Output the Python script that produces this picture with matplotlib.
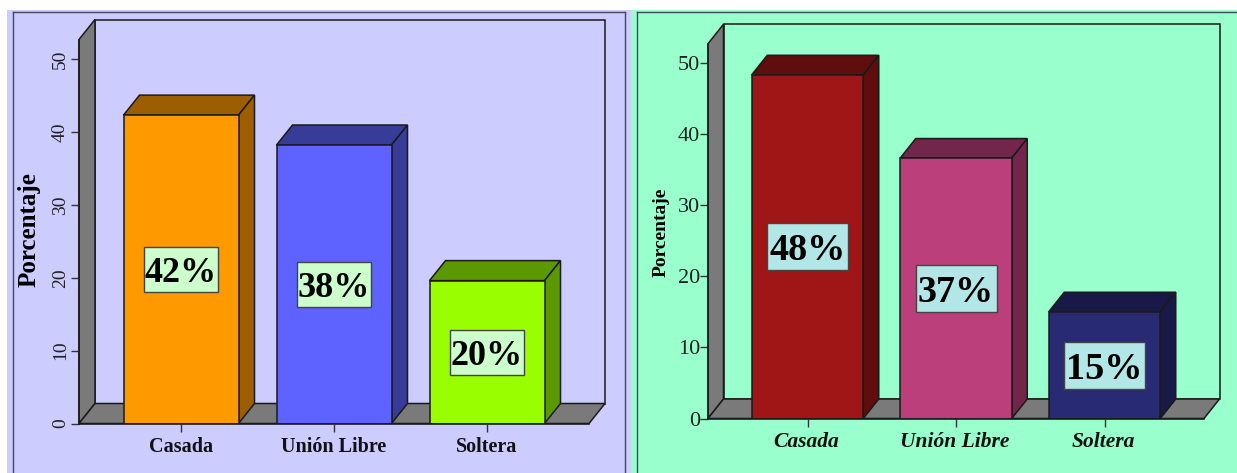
import matplotlib

matplotlib.use("Agg")
import matplotlib.pyplot as plt
from matplotlib.patches import Polygon, Rectangle
from matplotlib.transforms import ScaledTranslation

plt.rcParams["font.family"] = ["Liberation Serif", "DejaVu Sans"]

W, H = 1237, 473

categories = ["Casada", "Unión Libre", "Soltera"]
yticks = [0, 10, 20, 30, 40, 50]

left_values = [42.3, 38.2, 19.6]
left_labels = ["42%", "38%", "20%"]
left_front = ["#FF9900", "#5E62FF", "#99FF00"]
left_dark = ["#9C5E00", "#383C99", "#5C9900"]

right_values = [48.3, 36.6, 15.0]
right_labels = ["48%", "37%", "15%"]
right_front = ["#A01515", "#BB3F7B", "#292A74"]
right_dark = ["#600D0D", "#73264B", "#181946"]

LINE = "#1A1A1A"
GREY = "#7A7A7A"


def panel(fig, x0, x1, y0, color):
    fig.add_artist(
        Rectangle(
            (x0 / W, 0),
            (x1 - x0) / W,
            1 - y0 / H,
            transform=fig.transFigure,
            facecolor=color,
            edgecolor="none",
            zorder=-2,
        )
    )


def border(fig, x0, x1, y0):
    kw = dict(color="#444466", lw=1.0, transform=fig.transFigure, zorder=-1)
    fig.add_artist(plt.Line2D([x0 / W, x0 / W], [0, 1 - y0 / H], **kw))
    fig.add_artist(plt.Line2D([x0 / W, x1 / W], [1 - y0 / H, 1 - y0 / H], **kw))
    if x1 < W:
        fig.add_artist(plt.Line2D([x1 / W, x1 / W], [0, 1 - y0 / H], **kw))


def draw_chart(fig, box, values, labels, front, dark, opts):
    # box is x0, x1, y_bottom, y_top of the front plane, in image pixels
    x0, x1, yb, yt = box
    ax = fig.add_axes([x0 / W, 1 - yb / H, (x1 - x0) / W, (yb - yt) / H])
    ax.patch.set_alpha(0)

    sx = opts["spacing"]
    sy = opts["px_per_unit"]
    margin = (x1 - x0 - 2 * sx) / 2 / sx
    ax.set_xlim(-margin, 2 + margin)
    ax.set_ylim(0, (yb - yt) / sy)
    xmin, xmax = ax.get_xlim()
    ymax = ax.get_ylim()[1]
    dx = opts["depth"][0] / sx
    dy = opts["depth"][1] / sy
    bar_w = opts["bar_px"] / sx

    def poly(points, color, z):
        ax.add_patch(
            Polygon(points, closed=True, facecolor=color, edgecolor=LINE,
                    lw=1.1, zorder=z, clip_on=False, joinstyle="miter")
        )

    # walls of the 3d box
    poly([(xmin + dx, dy), (xmax + dx, dy), (xmax + dx, ymax + dy),
          (xmin + dx, ymax + dy)], "none", 1)
    poly([(xmin, 0), (xmin + dx, dy), (xmin + dx, ymax + dy), (xmin, ymax)],
         GREY, 1.5)
    poly([(xmin, 0), (xmax, 0), (xmax + dx, dy), (xmin + dx, dy)], GREY, 1.5)

    for i, v in enumerate(values):
        left = i - bar_w / 2
        right = i + bar_w / 2
        poly([(left, v), (right, v), (right + dx, v + dy), (left + dx, v + dy)],
             dark[i], 2)
        poly([(right, 0), (right + dx, dy), (right + dx, v + dy), (right, v)],
             dark[i], 2)
        ax.bar(i, v, width=bar_w, color=front[i], edgecolor=LINE, lw=1.1, zorder=3)

        bw = opts["label_box"][0] / sx
        bh = opts["label_box"][1] / sy
        ax.add_patch(
            Rectangle((i - bw / 2, v / 2 - bh / 2), bw, bh, facecolor=opts["label_color"],
                      edgecolor="#444444", lw=1.0, zorder=4)
        )
        ax.text(i, v / 2, labels[i], ha="center", va="center_baseline",
                fontsize=opts["label_size"], fontweight="bold", color="black", zorder=5)

    for side in ["top", "right"]:
        ax.spines[side].set_visible(False)
    for side in ["left", "bottom"]:
        ax.spines[side].set_color(LINE)
        ax.spines[side].set_linewidth(1.1)
        ax.spines[side].set_zorder(6)

    ax.set_xticks(range(3))
    ax.set_xticklabels(categories, fontsize=opts["cat_size"], fontweight="bold",
                       fontstyle=opts["cat_style"], color="#111111")
    ax.set_yticks(yticks)
    ax.set_yticklabels([str(t) for t in yticks], fontsize=opts["tick_size"],
                       rotation=opts["tick_rot"], va="center", color="#222222")
    ax.tick_params(axis="x", length=5.8, width=1.0, color="#333333", pad=opts["xpad"])
    ax.tick_params(axis="y", length=5.8, width=1.0, color="#333333", pad=opts["ypad"])

    # small nudges of the tick labels, given in pixels
    nudge_x = ScaledTranslation(opts["cat_nudge"] / 100, 0, fig.dpi_scale_trans)
    for lab in ax.get_xticklabels():
        lab.set_transform(lab.get_transform() + nudge_x)
    nudge_y = ScaledTranslation(0, opts["tick_nudge"] / 100, fig.dpi_scale_trans)
    for lab in ax.get_yticklabels():
        lab.set_transform(lab.get_transform() + nudge_y)

    ax.set_ylabel("Porcentaje", fontsize=opts["ylabel_size"], fontweight="bold", color="black")
    ax.yaxis.set_label_coords(*opts["ylabel_at"])
    return ax


def main():
    fig = plt.figure(figsize=(W / 100, H / 100), dpi=100, facecolor="white")

    panel(fig, 7, 631, 10, "#CCCCFF")
    panel(fig, 631, W, 10, "#99FFCC")
    border(fig, 13, 625, 12.5)
    border(fig, 637, W, 12.5)

    draw_chart(
        fig, (79, 589, 423.5, 39.5), left_values, left_labels, left_front, left_dark,
        dict(spacing=153, px_per_unit=7.29, depth=(16, 20), bar_px=115,
             label_box=(74, 45), label_color="#CCFFCC", label_size=26,
             cat_size=14.5, cat_style="normal", cat_nudge=0, xpad=4,
             tick_size=14, tick_rot=90, tick_nudge=0, ypad=1.5,
             ylabel_size=18, ylabel_at=((41 - 79) / 510, (423.5 - 230) / 384)),
    )
    draw_chart(
        fig, (708, 1204, 418.5, 43.7), right_values, right_labels, right_front, right_dark,
        dict(spacing=148.5, px_per_unit=7.116, depth=(15.5, 19.5), bar_px=111.5,
             label_box=(81, 47), label_color="#B3E6E6", label_size=27.5,
             cat_size=15.5, cat_style="italic", cat_nudge=-1.5, xpad=4,
             tick_size=16, tick_rot=0, tick_nudge=-2.5, ypad=0,
             ylabel_size=14, ylabel_at=((670 - 708) / 496, (418.5 - 232) / 374.8)),
    )

    fig.savefig("out.png", dpi=100)
    plt.close(fig)


if __name__ == "__main__":
    main()
